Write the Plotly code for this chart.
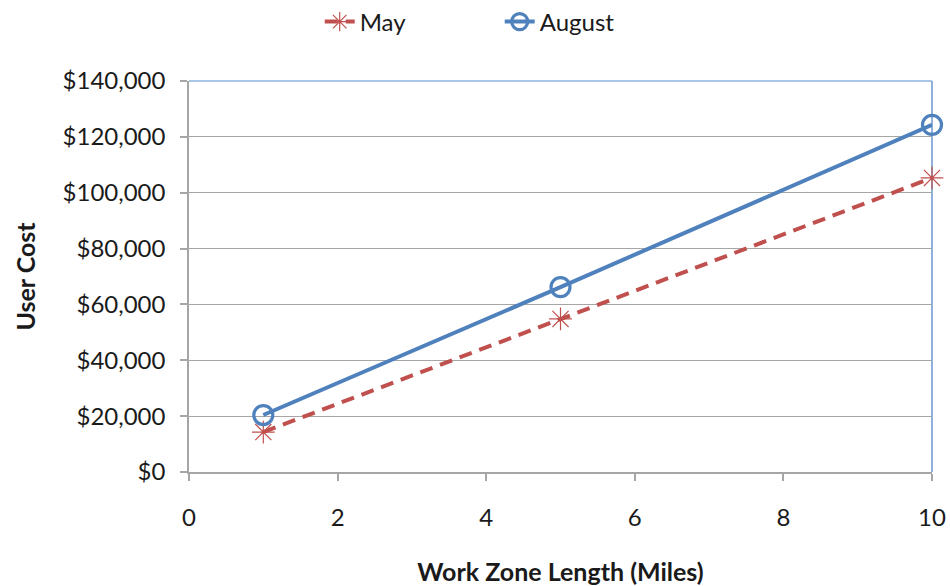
import plotly.graph_objects as go

# Work zone length (miles) and user cost by month
miles = [1, 5, 10]
may_cost = [14300, 54800, 105300]
august_cost = [20400, 66200, 124300]

x_ticks = [0, 2, 4, 6, 8, 10]
y_ticks = [0, 20000, 40000, 60000, 80000, 100000, 120000, 140000]
y_tick_text = [f"${v:,}" for v in y_ticks]

FONT = "Lato"
RED = "#C0504D"
BLUE = "#4F81BD"
GRID = "#A6A6A6"

fig = go.Figure()

fig.add_trace(go.Scatter(
    x=miles, y=may_cost, name="May", mode="lines+markers", cliponaxis=False,
    line=dict(color=RED, width=4, dash="13px,8px"),
    marker=dict(symbol="asterisk-open", size=19, line=dict(color=RED, width=1.2)),
))

fig.add_trace(go.Scatter(
    x=miles, y=august_cost, name="August", mode="lines+markers", cliponaxis=False,
    line=dict(color=BLUE, width=4),
    marker=dict(symbol="circle-open", size=19, line=dict(color=BLUE, width=3.2)),
))

fig.update_layout(
    width=950, height=586,
    margin=dict(l=189, r=18, t=81, b=114, autoexpand=False),
    paper_bgcolor="white", plot_bgcolor="white",
    font=dict(family=FONT, size=24, color="#1a1a1a"),
    showlegend=True,
    legend=dict(orientation="h", xref="container", yref="container",
                x=0.526, xanchor="center", y=1 - 22 / 586, yanchor="middle",
                font=dict(size=24), tracegroupgap=0, entrywidth=135),
)

fig.update_xaxes(
    range=[0, 10], tickvals=x_ticks,
    showgrid=False, zeroline=False,
    showline=True, linecolor=GRID, linewidth=1.5,
    ticks="outside", ticklen=7, tickcolor=GRID, tickwidth=1.5,
    ticklabelstandoff=16,
    title=dict(text="<b>Work Zone Length (Miles)</b>", font=dict(size=25), standoff=35),
)

fig.update_yaxes(
    range=[0, 140000], tickvals=y_ticks, ticktext=y_tick_text,
    showgrid=True, gridcolor=GRID, gridwidth=1,
    zeroline=False,
    showline=True, linecolor=GRID, linewidth=1.5,
    ticks="outside", ticklen=7, tickcolor=GRID, tickwidth=1.5,
    ticklabelstandoff=10,
    title=dict(text="<b>User Cost</b>", font=dict(size=25), standoff=20),
)

# Light blue frame on the top and right edges of the plot area
fig.add_shape(type="line", xref="paper", yref="paper", x0=0, x1=1, y0=1, y1=1,
              line=dict(color="#8DB3E2", width=1.5), layer="below")
fig.add_shape(type="line", xref="paper", yref="paper", x0=1, x1=1, y0=0, y1=1,
              line=dict(color="#6A97D0", width=1.5), layer="below")

fig.write_html("out.html")
